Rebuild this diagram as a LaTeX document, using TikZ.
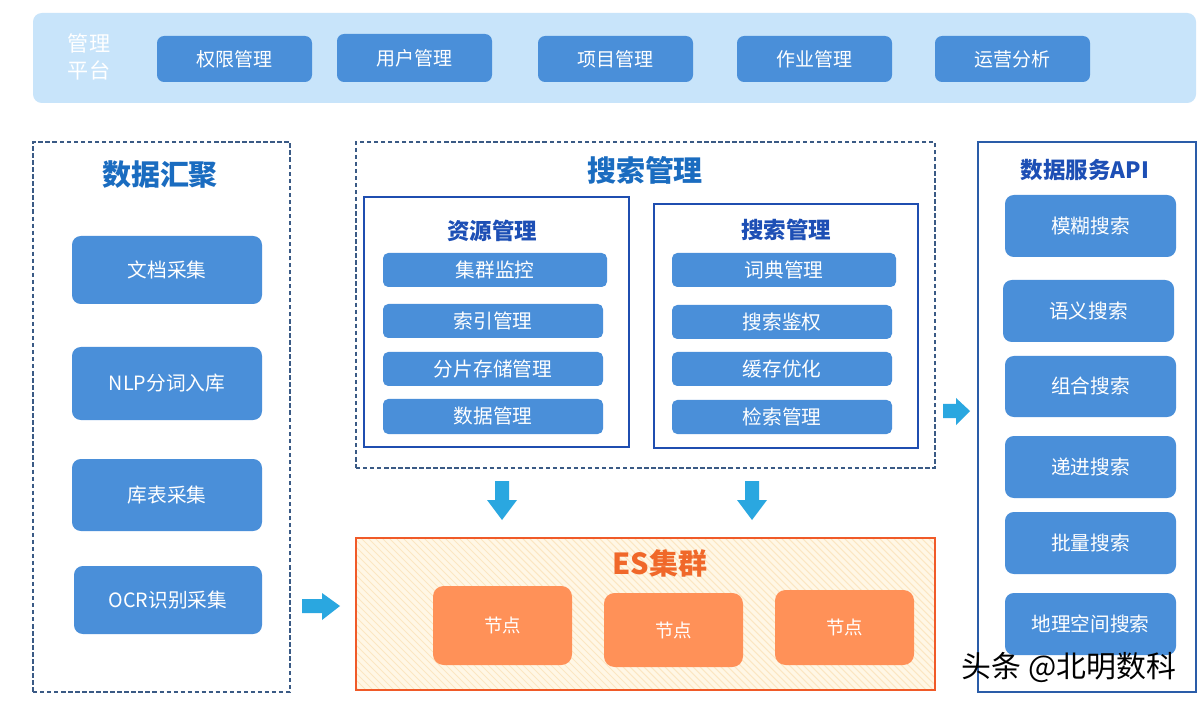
\documentclass[tikz,border=0pt]{standalone}
\usepackage{fontspec}
\setmainfont{Noto Sans CJK SC}
\definecolor{band}{HTML}{C8E4FA}
\definecolor{btnc}{HTML}{4A8FD9}
\definecolor{titleb}{HTML}{1A6CC0}
\definecolor{innert}{HTML}{1D4FB5}
\definecolor{dashc}{HTML}{3A5A85}
\definecolor{innerb}{HTML}{1F4EB0}
\definecolor{rightb}{HTML}{2A5CA8}
\definecolor{arrowc}{HTML}{2AA7E0}
\definecolor{esb}{HTML}{F05A28}
\definecolor{esfill}{HTML}{FFF7E6}
\definecolor{hatchc}{HTML}{FBE6C2}
\definecolor{nodec}{HTML}{FF9158}
\definecolor{est}{HTML}{F0682A}
\newcommand\boxat[7]{\node[#1, minimum width={(#4-#2)*0.02cm}, minimum height={(#5-#3)*0.02cm}] (#6) at ({(#2+#4)/2},{(#3+#5)/2}) {#7};}
\tikzset{
  btn/.style={fill=btnc, rounded corners=4pt, inner sep=0pt, outer sep=0pt, text=white, font=\fontsize{10.8pt}{12pt}\selectfont},
  sbtn/.style={btn, font=\fontsize{11.2pt}{12pt}\selectfont, rounded corners=3pt},
  lbtn/.style={btn, font=\fontsize{11.2pt}{12pt}\selectfont, rounded corners=5pt},
  esnode/.style={fill=nodec, rounded corners=6pt, inner sep=0pt, outer sep=0pt, text=white, font=\fontsize{10.5pt}{12pt}\selectfont},
  dashbox/.style={draw=dashc, line width=0.9pt, dash pattern=on 2.5pt off 1.5pt, inner sep=0pt, outer sep=0pt},
  innerbox/.style={draw=innerb, line width=0.9pt, inner sep=0pt, outer sep=0pt},
  bigtitle/.style={text=titleb, font=\fontsize{16.5pt}{18pt}\selectfont\bfseries},
  midtitle/.style={text=innert, font=\fontsize{12.8pt}{14pt}\selectfont\bfseries},
  blockarrow/.style={fill=arrowc},
}
\begin{document}
\begin{tikzpicture}[x=0.02cm, y=-0.02cm]
\useasboundingbox (0,0) rectangle (1200,709);
\fill[white] (0,0) rectangle (1200,709);
% top band
\boxat{fill=band, rounded corners=5pt, inner sep=0pt}{33}{13}{1196}{103}{band}{}
\node[text=white, font=\fontsize{12pt}{15pt}\selectfont, align=center] (plat) at (89,57) {管理\\平台};
\boxat{btn}{157}{36}{312}{82}{t1}{权限管理}
\boxat{btn}{337}{34}{492}{82}{t2}{用户管理}
\boxat{btn}{538}{36}{693}{82}{t3}{项目管理}
\boxat{btn}{737}{36}{892}{82}{t4}{作业管理}
\boxat{btn}{935}{36}{1090}{82}{t5}{运营分析}
% left box
\boxat{dashbox}{33}{142}{290}{692}{left}{}
\node[bigtitle] (ltitle) at (160,175) {数据汇聚};
\boxat{lbtn}{72}{236}{262}{304}{l1}{文档采集}
\boxat{lbtn}{72}{347}{262}{420}{l2}{NLP分词入库}
\boxat{lbtn}{72}{459}{262}{531}{l3}{库表采集}
\boxat{lbtn}{74}{566}{262}{634}{l4}{OCR识别采集}
% middle box
\boxat{dashbox}{356}{142}{935}{468}{mid}{}
\node[bigtitle] (mtitle) at (645,170) {搜索管理};
\boxat{innerbox}{364}{197}{629}{447}{res}{}
\node[midtitle] (restitle) at (492,231) {资源管理};
\boxat{sbtn}{383}{253}{607}{287}{r1}{集群监控}
\boxat{sbtn}{383}{304}{603}{338}{r2}{索引管理}
\boxat{sbtn}{383}{352}{603}{386}{r3}{分片存储管理}
\boxat{sbtn}{383}{399}{603}{434}{r4}{数据管理}
\boxat{innerbox}{654}{204}{918}{448}{srch}{}
\node[midtitle] (srchtitle) at (786,230) {搜索管理};
\boxat{sbtn}{672}{253}{896}{287}{s1}{词典管理}
\boxat{sbtn}{672}{305}{892}{339}{s2}{搜索鉴权}
\boxat{sbtn}{672}{352}{892}{386}{s3}{缓存优化}
\boxat{sbtn}{672}{400}{892}{434}{s4}{检索管理}
% down arrows
\foreach \cx in {502,752}{
  \fill[blockarrow] (\cx-7,481) -- (\cx+7,481) -- (\cx+7,500) -- (\cx+15,500) -- (\cx,520) -- (\cx-15,500) -- (\cx-7,500) -- cycle;
}
% ES cluster
\fill[esfill] (356,538) rectangle (935,690);
\begin{scope}
\clip (356,538) rectangle (935,690);
\foreach \i in {200,207,...,1100}{
  \draw[hatchc, line width=0.6pt] (\i,538) -- ++(152,152);
}
\end{scope}
\boxat{draw=esb, line width=1.1pt, inner sep=0pt, outer sep=0pt}{356}{538}{935}{690}{es}{}
\node[text=est, font=\fontsize{16.5pt}{18pt}\selectfont\bfseries] (estitle) at (660,563) {ES集群};
\boxat{esnode}{433}{586}{572}{665}{n1}{节点}
\boxat{esnode}{604}{593}{743}{667}{n2}{节点}
\boxat{esnode}{775}{590}{914}{665}{n3}{节点}
% side arrows
\fill[blockarrow] (302,599) -- (322,599) -- (322,593) -- (340,606) -- (322,620) -- (322,613) -- (302,613) -- cycle;
\fill[blockarrow] (943,404) -- (956,404) -- (956,398) -- (970,411) -- (956,425) -- (956,418) -- (943,418) -- cycle;
% right box
\boxat{draw=rightb, line width=0.9pt, inner sep=0pt, outer sep=0pt}{978}{142}{1196}{692}{right}{}
\node[text=innert, font=\fontsize{12.8pt}{14pt}\selectfont\bfseries] (rtitle) at (1085,170) {数据服务API};
\boxat{lbtn}{1005}{195}{1176}{257}{a1}{模糊搜索}
\boxat{lbtn}{1003}{280}{1174}{342}{a2}{语义搜索}
\boxat{lbtn}{1005}{356}{1176}{417}{a3}{组合搜索}
\boxat{lbtn}{1005}{436}{1176}{498}{a4}{递进搜索}
\boxat{lbtn}{1005}{512}{1176}{574}{a5}{批量搜索}
\boxat{lbtn}{1005}{593}{1176}{655}{a6}{地理空间搜索}
% watermark
\node[text=black, font=\fontsize{17pt}{19pt}\selectfont] (wm) at (1069,668) {头条 @北明数科};
\end{tikzpicture}
\end{document}
